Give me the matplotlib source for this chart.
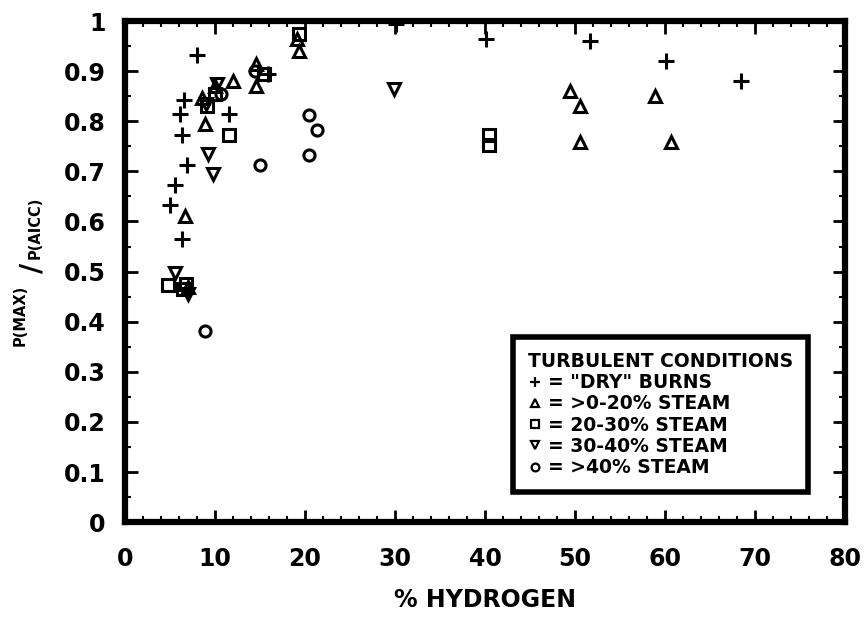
import matplotlib
matplotlib.use("Agg")
import matplotlib.pyplot as plt
from matplotlib.lines import Line2D
from matplotlib.ticker import MultipleLocator

plt.rcParams['font.family'] = ['DejaVu Sans']
plt.rcParams['font.weight'] = 'bold'

# % hydrogen vs. peak pressure ratio, one pair of lists per steam range
dry_h2 = [7.96, 15.9, 6.5, 6.1, 11.6, 6.3, 6.85, 5.6, 5.0, 6.3, 30.1, 40.1, 51.7, 60.1, 68.4]
dry_p = [0.933, 0.894, 0.842, 0.814, 0.814, 0.773, 0.712, 0.672, 0.633, 0.565, 0.995, 0.964, 0.961, 0.921, 0.881]

s0_20_h2 = [14.5, 14.5, 12.0, 10.0, 8.5, 8.9, 6.7, 7.0, 19.1, 19.3, 49.4, 50.6, 58.9, 50.5, 60.7]
s0_20_p = [0.914, 0.871, 0.88, 0.87, 0.847, 0.794, 0.611, 0.47, 0.964, 0.941, 0.861, 0.831, 0.851, 0.759, 0.759]

s20_30_h2 = [15.4, 10.0, 9.1, 11.5, 4.8, 6.4, 6.8, 19.3, 40.4, 40.4]
s20_30_p = [0.894, 0.855, 0.83, 0.773, 0.474, 0.465, 0.475, 0.974, 0.772, 0.752]

s30_40_h2 = [10.2, 9.0, 9.2, 9.8, 5.6, 7.0, 29.9]
s30_40_p = [0.875, 0.835, 0.734, 0.694, 0.497, 0.455, 0.864]

s40_h2 = [14.4, 10.7, 15.0, 8.9, 20.4, 21.3, 20.4]
s40_p = [0.90, 0.854, 0.712, 0.381, 0.812, 0.782, 0.732]

series = [
    (dry_h2, dry_p, '+', '= "DRY" BURNS'),
    (s0_20_h2, s0_20_p, '^', '= >0-20% STEAM'),
    (s20_30_h2, s20_30_p, 's', '= 20-30% STEAM'),
    (s30_40_h2, s30_40_p, 'v', '= 30-40% STEAM'),
    (s40_h2, s40_p, 'o', '= >40% STEAM'),
]

fig = plt.figure(figsize=(8.65, 6.18), dpi=100)
ax = fig.add_axes([0.1445, 0.155, 0.8325, 0.811])

handles = []
for x, y, m, lab in series:
    ms = 11 if m == '+' else 8
    ax.plot(x, y, linestyle='none', marker=m, ms=ms, mfc='none', mec='black', mew=2.2)
    handles.append(Line2D([], [], linestyle='none', marker=m, ms=ms * 0.7,
                          mfc='none', mec='black', mew=1.6, label=lab))

ax.set_xlim(0, 80)
ax.set_ylim(0, 1)
ax.xaxis.set_major_locator(MultipleLocator(10))
ax.xaxis.set_minor_locator(MultipleLocator(2))
ax.yaxis.set_minor_locator(MultipleLocator(0.05))
ax.set_yticks([i / 10 for i in range(11)])
ax.set_yticklabels(['0', '0.1', '0.2', '0.3', '0.4', '0.5', '0.6', '0.7', '0.8', '0.9', '1'])
ax.tick_params(which='major', direction='in', top=True, right=True, length=9, width=2,
               labelsize=17)
ax.tick_params(axis='x', which='major', pad=18)
ax.tick_params(axis='y', which='major', pad=14)
ax.tick_params(which='minor', direction='in', top=True, right=True, length=4, width=1.5)
for sp in ax.spines.values():
    sp.set_linewidth(4.5)

ax.set_xlabel('% HYDROGEN', fontsize=17, fontweight='bold', labelpad=12)

# ratio label on the left, built from three pieces
fig.text(0.023, 0.489, 'P(MAX)', rotation=90, fontsize=10.5, fontweight='bold',
         ha='center', va='center')
fig.text(0.037, 0.566, '/', rotation=90, fontsize=20, fontweight='bold',
         ha='center', va='center')
fig.text(0.041, 0.631, 'P(AICC)', rotation=90, fontsize=10.5, fontweight='bold',
         ha='center', va='center')

leg = ax.legend(handles=handles, loc='lower right', bbox_to_anchor=(0.949, 0.06),
                title='TURBULENT CONDITIONS', alignment='left',
                fontsize=13.5, title_fontproperties={'size': 13.5, 'weight': 'bold'},
                frameon=True, fancybox=False, framealpha=1, handlelength=0.7,
                handletextpad=0.35, labelspacing=0.12, borderpad=0.8, borderaxespad=0)
leg.get_frame().set_edgecolor('black')
leg.get_frame().set_linewidth(4)

fig.savefig('out.png', dpi=100)
